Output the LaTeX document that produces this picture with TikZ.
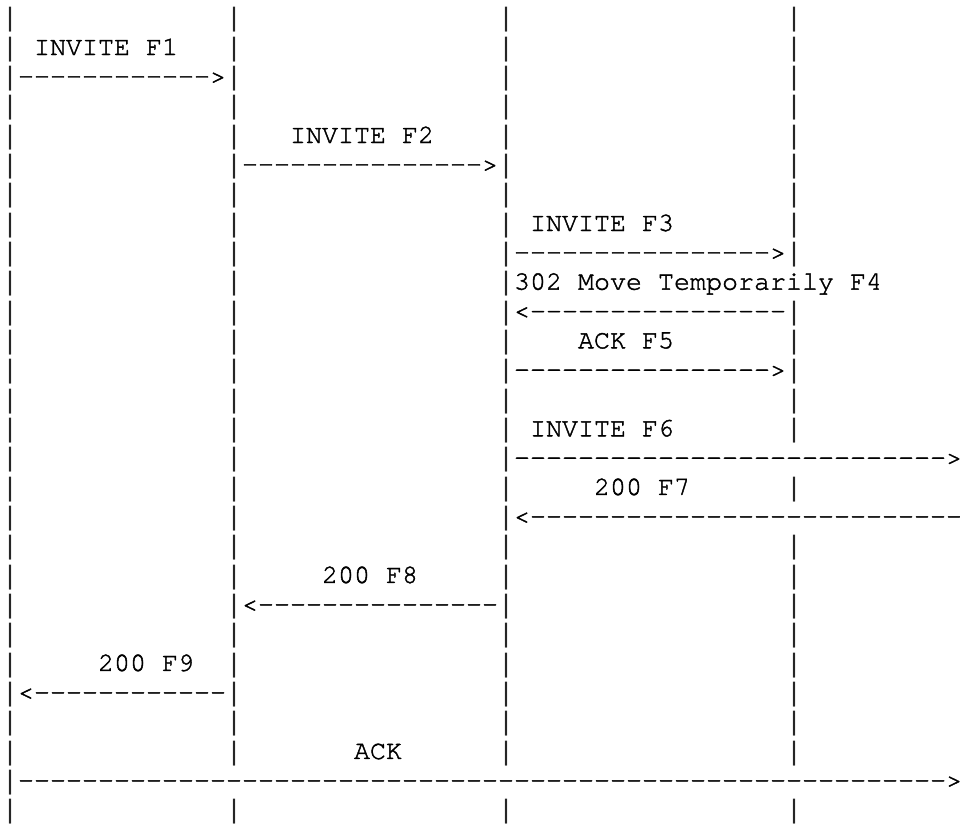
\documentclass[tikz,border=0pt]{standalone}
\usepackage{fontspec}
\setmonofont{texgyrecursor-regular.otf}[FakeBold=1.5]
\newfontfamily\pipefont{Liberation Mono}
\newcommand\dashes[1]{\foreach \j in {1,...,#1}{-}}
\tikzset{ascii/.style={inner sep=0pt, outer sep=0pt, anchor=base west,
  font=\ttfamily\fontsize{26.67pt}{29.33pt}\selectfont, text=black},
  pipe/.style={ascii, font=\pipefont\fontsize{26.67pt}{29.33pt}\selectfont, text=black!85}}
\newcommand\cell[3]{\node[ascii] (r#1c#2) at ({(2+16*#2)*1pt}, {-(25.7+29.33*#1)*1pt}) {#3};}
\newcommand\lifebar[2]{\node[pipe] (r#1c#2) at ({(2+16*#2)*1pt}, {-(26.9+29.33*#1)*1pt}) {|};}
\begin{document}
\begin{tikzpicture}
\fill[white] (0pt,0pt) rectangle (960pt,-823pt);
\useasboundingbox (0pt,0pt) rectangle (960pt,-823pt);
% lifelines
\foreach \r in {0,1,2,3,4,5,6,7,8,10,11,12,13,14,16,18,19,20,21,22,23,24,25,27}
  {\foreach \c in {0,14,31,49} {\lifebar{\r}{\c}}}
\foreach \r in {9,15,17}
  {\foreach \c in {0,14,31} {\lifebar{\r}{\c}}}
\lifebar{26}{0}
% messages
\cell{1}{2}{INVITE F1}
\cell{2}{1}{\dashes{12}>}
\cell{4}{18}{INVITE F2}
\cell{5}{15}{\dashes{15}>}
\cell{7}{33}{INVITE F3}
\cell{8}{32}{\dashes{16}>}
\cell{9}{32}{302 Move Temporarily F4}
\cell{10}{32}{<\dashes{16}}
\cell{11}{36}{ACK F5}
\cell{12}{32}{\dashes{16}>}
\cell{14}{33}{INVITE F6}
\cell{15}{32}{\dashes{27}>}
\cell{16}{37}{200 F7}
\cell{17}{32}{<\dashes{27}}
\cell{19}{20}{200 F8}
\cell{20}{15}{<\dashes{15}}
\cell{22}{6}{200 F9}
\cell{23}{1}{<\dashes{12}}
\cell{25}{22}{ACK}
\cell{26}{1}{\dashes{58}>}
\end{tikzpicture}
\end{document}
